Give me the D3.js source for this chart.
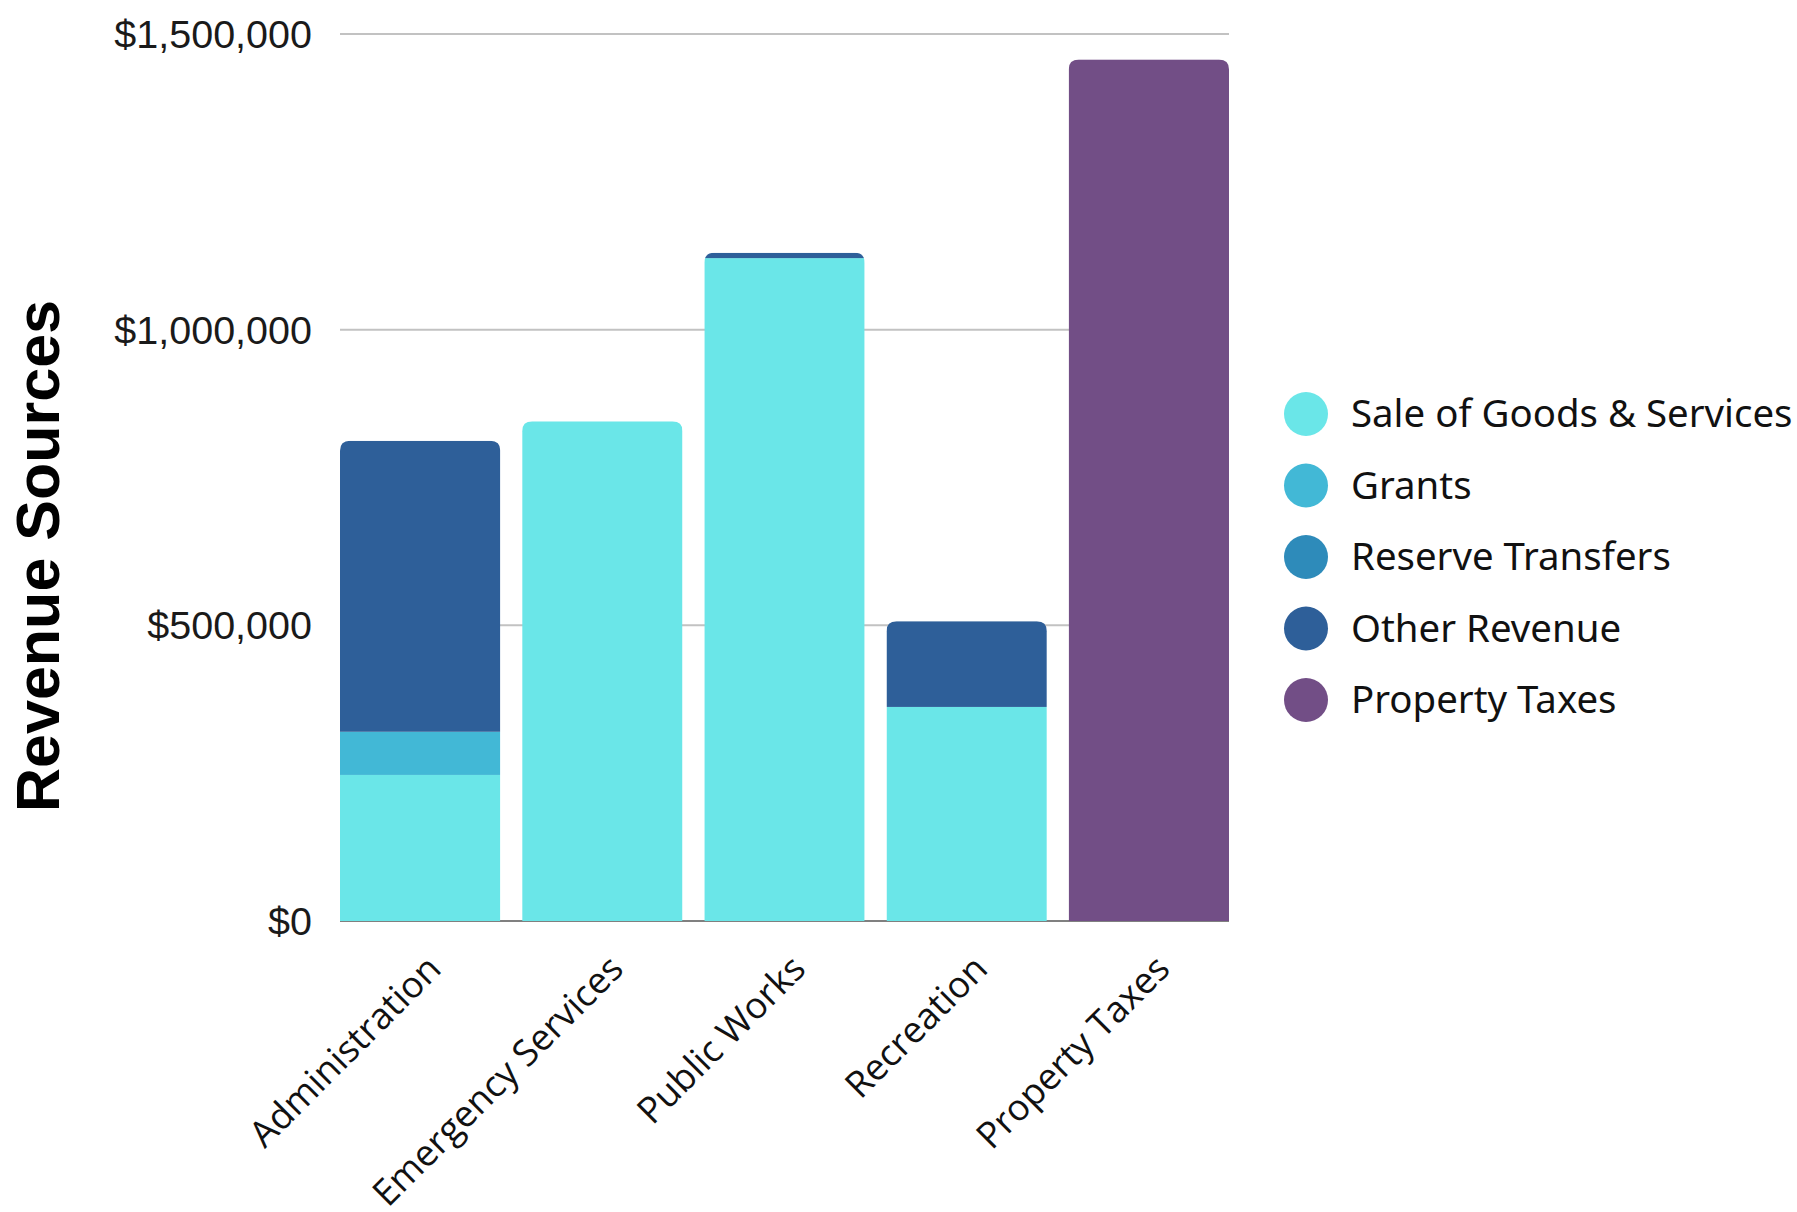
<!DOCTYPE html>
<html>
<head>
<meta charset="utf-8">
<script src="https://cdn.jsdelivr.net/npm/d3@7"></script>
<style>
  html, body { margin: 0; padding: 0; background: #fff; }
</style>
</head>
<body>
<div id="chart"></div>
<script>
const categories = ['Administration', 'Emergency Services', 'Public Works', 'Recreation', 'Property Taxes'];
const seriesNames = ['Sale of Goods & Services', 'Grants', 'Reserve Transfers', 'Other Revenue', 'Property Taxes'];
const seriesColors = ['#6ae6e8', '#42b8d6', '#2e8bba', '#2e5f99', '#724e86'];
const saleOfGoods = [247000, 845000, 1121000, 362000, 0];
const grants = [73000, 0, 0, 0, 0];
const reserveTransfers = [0, 0, 0, 0, 0];
const otherRevenue = [492000, 0, 9000, 145000, 0];
const propertyTaxes = [0, 0, 0, 0, 1457000];
const yTicks = [0, 500000, 1000000, 1500000];

const width = 1797, height = 1212;
const margin = { top: 34, left: 340, right: 568, bottom: 291 };
const seriesValues = [saleOfGoods, grants, reserveTransfers, otherRevenue, propertyTaxes];

const rows = categories.map((c, i) => {
    const row = { category: c };
    seriesNames.forEach((s, j) => { row[s] = seriesValues[j][i]; });
    return row;
});
const stacked = d3.stack().keys(seriesNames)(rows);

const svg = d3.select('#chart')
    .append('svg')
    .attr('width', width)
    .attr('height', height)
    .style('font-family', 'Liberation Sans, Arial, sans-serif');

const x = d3.scaleBand()
    .domain(categories)
    .range([margin.left, width - margin.right])
    .paddingInner(0.12)
    .paddingOuter(0);
const y = d3.scaleLinear()
    .domain([0, 1500000])
    .range([height - margin.bottom, margin.top]);

// gridlines
svg.append('g')
    .selectAll('line')
    .data(yTicks)
    .enter().append('line')
    .attr('x1', margin.left)
    .attr('x2', width - margin.right)
    .attr('y1', d => y(d))
    .attr('y2', d => y(d))
    .attr('stroke', d => d === 0 ? '#808080' : '#c2c2c2')
    .attr('stroke-width', 2);

// y axis labels
const yAxis = svg.append('g')
    .attr('transform', `translate(${margin.left - 28},0)`)
    .call(d3.axisLeft(y).tickValues(yTicks).tickSize(0).tickPadding(0)
        .tickFormat(d => '$' + d3.format(',')(d)));
yAxis.select('.domain').remove();
yAxis.selectAll('text')
    .attr('font-size', 39.5)
    .attr('font-family', 'Liberation Sans, Arial, sans-serif')
    .attr('fill', '#1a1a1a')
    .attr('dy', '0.34em');

// clip paths with rounded tops per bar
const r = 10;
const totals = rows.map(row => d3.sum(seriesNames, s => row[s]));
const defs = svg.append('defs');
categories.forEach((c, i) => {
    const x0 = x(c), x1 = x(c) + x.bandwidth();
    const yt = y(totals[i]), yb = y(0);
    defs.append('clipPath')
        .attr('id', 'clip' + i)
        .append('path')
        .attr('d', `M${x0},${yb}V${yt + r}Q${x0},${yt} ${x0 + r},${yt}H${x1 - r}Q${x1},${yt} ${x1},${yt + r}V${yb}Z`);
});

const bars = svg.append('g')
    .selectAll('g')
    .data(categories)
    .enter().append('g')
    .attr('clip-path', (d, i) => `url(#clip${i})`);

bars.selectAll('rect')
    .data((c, i) => stacked.map((layer, j) => ({ key: layer.key, color: seriesColors[j], v: layer[i], c })))
    .enter().append('rect')
    .filter(d => d.v[1] - d.v[0] > 0)
    .attr('x', d => x(d.c))
    .attr('width', x.bandwidth())
    .attr('y', d => y(d.v[1]))
    .attr('height', d => y(d.v[0]) - y(d.v[1]))
    .attr('fill', d => d.color);

// x labels
svg.append('g')
    .selectAll('text')
    .data(categories)
    .enter().append('text')
    .attr('transform', d => `translate(${x(d) + x.bandwidth() / 2 + 23},${height - margin.bottom + 50}) rotate(-45)`)
    .attr('text-anchor', 'end')
    .attr('font-family', 'Open Sans, sans-serif')
    .attr('font-size', 36.5)
    .attr('fill', '#111')
    .text(d => d);

// y axis title
svg.append('text')
    .attr('transform', `translate(59,556) rotate(-90)`)
    .attr('text-anchor', 'middle')
    .attr('font-family', 'Liberation Sans, Arial, sans-serif')
    .attr('font-weight', 'bold')
    .attr('font-size', 61)
    .attr('fill', '#000')
    .text('Revenue Sources');

// legend
const legend = svg.append('g')
    .selectAll('g')
    .data(seriesNames)
    .enter().append('g')
    .attr('transform', (d, i) => `translate(1306,${414 + i * 71.5})`);
legend.append('circle')
    .attr('r', 22)
    .attr('fill', (d, i) => seriesColors[i]);
legend.append('text')
    .attr('x', 45)
    .attr('dy', '0.34em')
    .attr('font-family', 'Noto Sans, sans-serif')
    .attr('font-size', 38.4)
    .attr('fill', '#111')
    .text(d => d);
</script>
</body>
</html>
